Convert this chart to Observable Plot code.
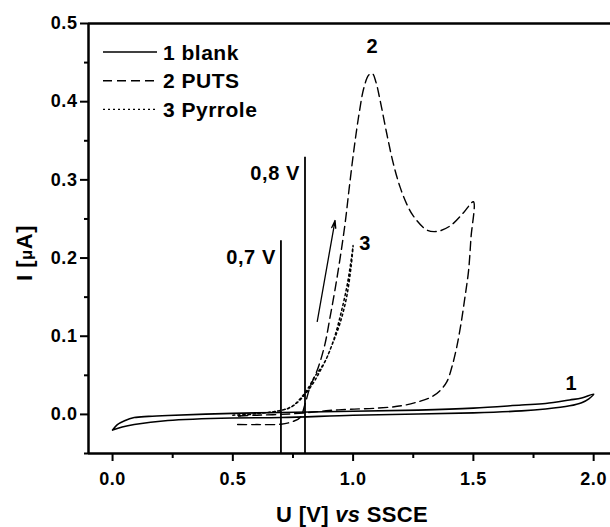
<!DOCTYPE html>
<html><head><meta charset="utf-8">
<script src="https://cdn.jsdelivr.net/npm/d3@7"></script>
<script src="https://cdn.jsdelivr.net/npm/@observablehq/plot@0.6"></script>
<style>body{margin:0;background:#fff}svg{display:block}</style>
</head><body><div id="chart"></div>
<script>
// ---- data ----
const blankU = [0.0,0.02,0.05,0.09,0.15,0.23,0.5,0.7,1.0,1.27,1.5,1.7,1.8,1.9,1.95,2.0,
                1.98,1.95,1.9,1.8,1.7,1.5,1.27,1.0,0.7,0.5,0.23,0.09,0.04,0.0];
const blankI = [-0.02,-0.013,-0.008,-0.004,-0.0025,-0.0013,0.0013,0.0025,0.004,0.0055,0.008,0.012,0.014,0.0185,0.021,0.026,
                0.02,0.015,0.011,0.007,0.0045,0.002,0.0005,-0.001,-0.004,-0.0045,-0.0077,-0.0128,-0.016,-0.02];

const putsU = [0.52,0.6,0.7,0.75,0.78,0.80,0.82,0.855,0.883,0.904,0.925,0.946,0.967,0.984,1.004,1.025,1.045,1.065,1.08,1.095,1.112,1.14,1.167,1.195,1.223,1.25,1.306,1.348,1.403,1.459,1.5,
               1.49,1.48,1.465,1.448,1.43,1.41,1.39,1.36,1.33,1.28,1.2,1.1,0.988,0.9,0.8,0.7,0.6,0.52];
const putsI = [-0.013,-0.013,-0.0125,-0.009,-0.004,0.013,0.034,0.06,0.09,0.124,0.16,0.2,0.245,0.29,0.34,0.385,0.418,0.434,0.436,0.425,0.402,0.359,0.321,0.291,0.269,0.254,0.236,0.234,0.241,0.258,0.272,
               0.226,0.184,0.15,0.115,0.085,0.06,0.042,0.03,0.023,0.017,0.011,0.008,0.0066,0.005,0.002,0.0,-0.001,-0.002];

const pyrroleU = [0.5,0.6,0.68,0.74,0.78,0.81,0.84,0.88,0.91,0.945,0.973,0.992,1.0,
                  0.993,0.975,0.95,0.922,0.893,0.862,0.83,0.79,0.75,0.7,0.6,0.52];
const pyrroleI = [-0.001,0.001,0.004,0.009,0.02,0.032,0.048,0.066,0.087,0.116,0.15,0.19,0.216,
                  0.2,0.165,0.13,0.098,0.074,0.055,0.038,0.022,0.011,0.005,0.001,-0.002];

const markerU = [0.7, 0.8];
const markerTopI = [0.222, 0.329];
const markerLabelI = [0.2, 0.308];
const markerLabels = ["0,7 V", "0,8 V"];

const curveLabels = ["1", "2", "3"];
const curveLabelU = [1.907, 1.08, 1.05];
const curveLabelI = [0.040, 0.47, 0.219];

const arrowU = [0.851, 0.925];
const arrowI = [0.119, 0.248];

const legendLabels = ["1 blank", "2 PUTS", "3 Pyrrole"];

const xDomain = [-0.1, 2.07];
const yDomain = [-0.05, 0.5];
const xTicks = [0.0, 0.5, 1.0, 1.5, 2.0];
const xMinorTicks = [0.25, 0.75, 1.25, 1.75];
const yTicks = [0.0, 0.1, 0.2, 0.3, 0.4, 0.5];
const yMinorTicks = [-0.05, 0.05, 0.15, 0.25, 0.35, 0.45];
const xTitle = ["U [V] ", "vs", " SSCE"];
const yTitle = ["I [", "μ", "A]"];

// ---- tables ----
const blank = blankU.map((u, k) => ({u, i: blankI[k]}));
const puts = putsU.map((u, k) => ({u, i: putsI[k]}));
const pyrrole = pyrroleU.map((u, k) => ({u, i: pyrroleI[k]}));
const markers = markerU.map((u, k) => ({u, top: markerTopI[k], li: markerLabelI[k], label: markerLabels[k]}));
const labels = curveLabels.map((t, k) => ({t, u: curveLabelU[k], i: curveLabelI[k]}));
const arrows = [{x1: arrowU[0], y1: arrowI[0], x2: arrowU[1], y2: arrowI[1]}];

const font = "'Liberation Sans', Arial, sans-serif";
const styles = {solid: null, dashed: "9,5", dotted: "2,3"};

const chart = Plot.plot({
  width: 610, height: 527,
  marginLeft: 88, marginRight: 0, marginTop: 23, marginBottom: 74,
  style: {fontFamily: font, fontSize: "18px", fontWeight: "bold", color: "#000", background: "#fff", overflow: "visible", letterSpacing: "0.6px"},
  x: {domain: xDomain, label: null},
  y: {domain: yDomain, label: null},
  marks: [
    Plot.line(blank, {x: "u", y: "i", stroke: "#000", strokeWidth: 1.6, curve: "catmull-rom"}),
    Plot.line(puts, {x: "u", y: "i", stroke: "#000", strokeWidth: 1.4, strokeDasharray: styles.dashed, curve: "catmull-rom"}),
    Plot.line(pyrrole, {x: "u", y: "i", stroke: "#000", strokeWidth: 1.5, strokeDasharray: styles.dotted, curve: "catmull-rom"}),
    Plot.ruleX(markers, {x: "u", y1: yDomain[0], y2: "top", stroke: "#000", strokeWidth: 1.8}),
    Plot.text(markers, {x: "u", y: "li", text: "label", textAnchor: "end", dx: -5, fontSize: 20, fill: "#000"}),
    Plot.arrow(arrows, {x1: "x1", y1: "y1", x2: "x2", y2: "y2", stroke: "#000", strokeWidth: 1.3, headLength: 9, headAngle: 30}),
    Plot.text(labels, {x: "u", y: "i", text: "t", fontSize: 20, fill: "#000"}),
    Plot.ruleY([yDomain[0]], {stroke: "#000", strokeWidth: 2.5}),
    Plot.ruleY([yDomain[1]], {stroke: "#000", strokeWidth: 2.5}),
    Plot.ruleX([xDomain[0]], {stroke: "#000", strokeWidth: 2.5}),
    Plot.axisX(xTicks, {tickSize: 8, tickPadding: 11, tickFormat: d3.format(".1f"), strokeWidth: 2, label: null}),
    Plot.axisX(xMinorTicks, {tickSize: 5, tickFormat: () => "", strokeWidth: 2, label: null}),
    Plot.axisY(yTicks, {tickSize: 8, tickPadding: 3, tickFormat: d3.format(".1f"), strokeWidth: 2, label: null}),
    Plot.axisY(yMinorTicks, {tickSize: 4, tickFormat: () => "", strokeWidth: 2, label: null})
  ]
});

const svg = d3.select(chart);
// legend
const legendDash = [styles.solid, styles.dashed, styles.dotted];
const lg = svg.append("g").attr("font-family", font).attr("font-weight", "bold").attr("font-size", 21)
  .attr("text-anchor", "start").attr("letter-spacing", "0.5px");
legendLabels.forEach((t, k) => {
  const y = 52 + k * 28.7;
  lg.append("line").attr("x1", 103).attr("x2", 157).attr("y1", y).attr("y2", y)
    .attr("stroke", "#000").attr("stroke-width", 1.4)
    .attr("stroke-dasharray", legendDash[k]);
  lg.append("text").attr("x", 163).attr("y", y + 7.5).text(t);
});
// x title
const xt = svg.append("text").attr("x", 352).attr("y", 522).attr("text-anchor", "middle")
  .attr("font-family", font).attr("font-weight", "bold").attr("font-size", 22).attr("letter-spacing", "0.3px");
xTitle.forEach((s, k) => xt.append("tspan").attr("font-style", k === 1 ? "italic" : null).text(s));
// y title
const yt = svg.append("text").attr("transform", "translate(32,253) rotate(-90)").attr("text-anchor", "middle")
  .attr("font-family", font).attr("font-weight", "bold").attr("font-size", 22);
yTitle.forEach((s, k) => yt.append("tspan").attr("font-size", k === 1 ? 16 : null).text(s));

document.getElementById("chart").appendChild(chart);
</script>
</body></html>
